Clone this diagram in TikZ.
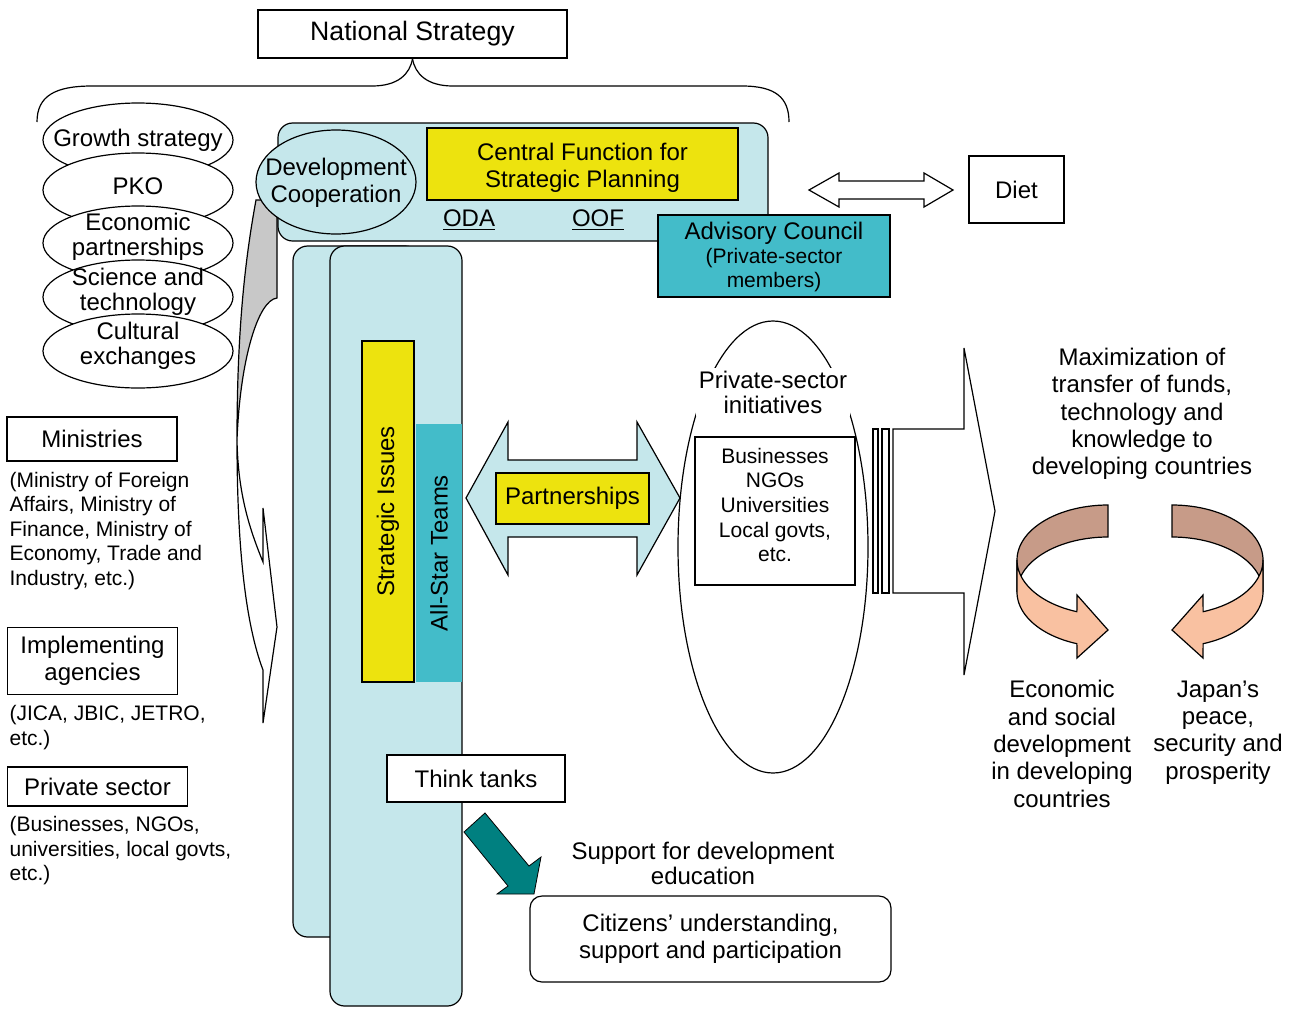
\documentclass[tikz,border=0pt]{standalone}
\usepackage{fontspec}
\setmainfont{Liberation Sans}
\usepackage{tikz}
\usetikzlibrary{shapes,positioning}
\definecolor{paleblue}{RGB}{197,231,235}
\definecolor{boxyellow}{RGB}{237,227,14}
\definecolor{councilteal}{RGB}{67,188,201}
\definecolor{arrowteal}{RGB}{0,128,128}
\definecolor{ringback}{RGB}{199,155,136}
\definecolor{ringfront}{RGB}{249,193,161}
\definecolor{shadegray}{RGB}{200,200,200}
\newcommand{\bigtxt}{\fontsize{18pt}{20.5pt}\selectfont}
\newcommand{\smalltxt}{\fontsize{15.75pt}{18.4pt}\selectfont}
\newcommand{\tighttxt}{\fontsize{18pt}{18.75pt}\selectfont}

\begin{document}
\begin{tikzpicture}[x=0.75pt, y=-0.75pt, line width=0.9pt,
        every node/.style={font=\bigtxt, align=center},
        plainbox/.style={draw, fill=white, rectangle, inner sep=0pt},
        topic/.style={draw, fill=white, ellipse, minimum width=142.5pt, minimum height=55.5pt, inner sep=0pt},
        listtext/.style={font=\smalltxt, align=left, anchor=west, inner sep=0pt}]
        \useasboundingbox (0,0) rectangle (1296,1008);

        % National strategy and its brace
        \node[plainbox, minimum width=231.75pt, minimum height=36pt, font=\fontsize{20pt}{24pt}\selectfont] (natbox) at (412.5,34) {National Strategy};
        \draw (37,122) .. controls (37,96) and (55,86) .. (92,86) -- (372,86) .. controls (398,86) and (410,74) .. (natbox.south);
        \draw (natbox.south) .. controls (415,74) and (427,86) .. (453,86) -- (742,86) .. controls (776,86) and (789,98) .. (789,122);

        % Policy fields
        \node[topic] (growth) at (138,140) {};
        \node[topic] (pko) at (138,190) {};
        \node[topic] (econ) at (138,243) {};
        \node[topic] (science) at (138,297) {};
        \node[topic] (culture) at (138,351) {};
        \node[font=\tighttxt] (growthtxt) at (138,140) {Growth strategy};
        \node[font=\tighttxt] (pkotxt) at (138,186) {PKO};
        \node[font=\tighttxt] (econtxt) at (138,237) {Economic\\partnerships};
        \node[font=\tighttxt] (sciencetxt) at (138,292) {Science and\\technology};
        \node[font=\tighttxt] (culturetxt) at (138,346) {Cultural\\exchanges};

        % Curved arrow down the left side
        \draw[fill=white] (237,440) .. controls (237,550) and (246,625) .. (263,670) -- (263,723) -- (277,627) -- (263,508) -- (263,562) .. controls (250,530) and (238,495) .. (237,440) -- cycle;
        \draw[fill=shadegray] (256,200) .. controls (245,260) and (237,330) .. (237,440) .. controls (240,360) and (258,300) .. (277,298) -- (277,200) -- cycle;

        % Development cooperation panel
        \node[draw, fill=paleblue, rounded corners=11pt, minimum width=367.5pt, minimum height=88.5pt, inner sep=0pt] (devpanel) at (523,182) {};
        \node[draw, fill=paleblue, ellipse, minimum width=120pt, minimum height=78pt, inner sep=0pt] (devcoop) at (336,182) {};
        \node (devcooptxt) at (336,182.5) {Development\\Cooperation};
        \node[draw, fill=boxyellow, minimum width=233.25pt, minimum height=54pt, inner sep=0pt] (central) at (582.5,164) {};
        \node (centraltxt) at (582.5,167.5) {Central Function for\\Strategic Planning};
        \node (oda) at (469,220) {\underline{ODA}};
        \node (oof) at (598,220) {\underline{OOF}};
        \node[draw, fill=councilteal, minimum width=174pt, minimum height=61.5pt, inner sep=0pt] (advisory) at (774,256) {};
        \node (advtitle) at (774,233) {Advisory Council};
        \node[font=\smalltxt] (advmembers) at (774,270) {(Private-sector\\members)};

        % Diet
        \draw[fill=white] (809,190) -- (839,173) -- (839,181) -- (924,181) -- (924,173) -- (953,190) -- (924,207) -- (924,199) -- (839,199) -- (839,207) -- cycle;
        \node[plainbox, minimum width=71.25pt, minimum height=50.25pt] (diet) at (1016.5,189.5) {Diet};

        % Columns
        \node[draw, fill=paleblue, rounded corners=11pt, minimum width=95.25pt, minimum height=518.25pt, inner sep=0pt] (backcol) at (356.5,591.5) {};
        \node[draw, fill=paleblue, rounded corners=11pt, minimum width=99pt, minimum height=570pt, inner sep=0pt] (frontcol) at (396,626) {};
        \node[draw, fill=boxyellow, rotate=90, minimum width=255.75pt, minimum height=39pt, inner sep=0pt] (issues) at (388,511.5) {Strategic Issues};
        \node[fill=councilteal, rotate=90, minimum width=193.5pt, minimum height=34.5pt, inner sep=0pt] (allstar) at (439,553) {All-Star Teams};

        % Partnerships
        \draw[fill=paleblue] (466,498) -- (508,422) -- (508,460) -- (637,460) -- (637,422) -- (680,498) -- (637,575) -- (637,537) -- (508,537) -- (508,575) -- cycle;
        \node[draw, fill=boxyellow, minimum width=114.75pt, minimum height=38.25pt, inner sep=0pt] (partner) at (572.5,498.5) {Partnerships};

        % Private-sector initiatives
        \node[draw, ellipse, minimum width=142.5pt, minimum height=339pt, inner sep=0pt] (initiatives) at (773,547) {};
        \node[font=\tighttxt, fill=white, inner sep=2pt] (initxt) at (773,392) {Private-sector\\initiatives};
        \node[plainbox, minimum width=120pt, minimum height=111pt] (actors) at (775,511) {};
        \node[font=\smalltxt] (actorstxt) at (775,505) {Businesses\\NGOs\\Universities\\Local govts,\\etc.};

        % Striped arrow
        \draw[fill=white] (873,429) rectangle (878,593);
        \draw[fill=white] (882,429) rectangle (889,593);
        \draw[fill=white] (893,429) -- (964,429) -- (964,348) -- (995,511) -- (964,675) -- (964,593) -- (893,593) -- cycle;

        % Outcomes
        \node (transfer) at (1142,414) {Maximization of\\transfer of funds,\\technology and\\knowledge to\\developing countries};
        \draw[fill=ringback] plot[domain=270:180, samples=30] ({1108+91*cos(\x)},{560+55*sin(\x)}) -- plot[domain=180:270, samples=30] ({1108+91*cos(\x)},{592+55*sin(\x)}) -- cycle;
        \draw[fill=ringfront] plot[domain=180:110, samples=30] ({1108+91*cos(\x)},{560+55*sin(\x)}) -- (1077,595) -- (1108,630) -- (1077,658) -- plot[domain=110:180, samples=30] ({1108+91*cos(\x)},{592+55*sin(\x)}) -- cycle;
        \draw[fill=ringback] plot[domain=270:360, samples=30] ({1172+91*cos(\x)},{560+55*sin(\x)}) -- plot[domain=360:270, samples=30] ({1172+91*cos(\x)},{592+55*sin(\x)}) -- cycle;
        \draw[fill=ringfront] plot[domain=0:70, samples=30] ({1172+91*cos(\x)},{560+55*sin(\x)}) -- (1203,595) -- (1172,630) -- (1203,658) -- plot[domain=70:0, samples=30] ({1172+91*cos(\x)},{592+55*sin(\x)}) -- cycle;
        \node (devgoal) at (1062,744) {Economic\\and social\\development\\in developing\\countries};
        \node (japangoal) at (1218,732.5) {Japan’s\\peace,\\security and\\prosperity};

        % Think tanks and citizens
        \node[plainbox, minimum width=133.5pt, minimum height=35.25pt] (think) at (476,778.5) {Think tanks};
        \draw[fill=arrowteal, line width=0.6pt] (464,832) -- (485,813) -- (529,866) -- (541,857) -- (534,894) -- (497,894) -- (508,886) -- cycle;
        \node[font=\tighttxt] (support) at (703,863) {Support for development\\education};
        \node[plainbox, rounded corners=9pt, minimum width=270.75pt, minimum height=64.5pt] (citizens) at (710.5,939) {Citizens’ understanding,\\support and participation};

        % Actors on the left
        \node[plainbox, minimum width=127.5pt, minimum height=33pt] (ministries) at (92,439) {Ministries};
        \node[listtext] (ministrylist) at (9,531) {(Ministry of Foreign\\Affairs, Ministry of\\Finance, Ministry of\\Economy, Trade and\\Industry, etc.)};
        \node[plainbox, minimum width=127.5pt, minimum height=50.25pt] (agencies) at (92.5,661) {Implementing\\agencies};
        \node[listtext] (agencylist) at (9,727.5) {(JICA, JBIC, JETRO,\\etc.)};
        \node[plainbox, minimum width=135pt, minimum height=29.25pt] (private) at (97.5,786.5) {Private sector};
        \node[listtext] (privatelist) at (9,851) {(Businesses, NGOs,\\universities, local govts,\\etc.)};
\end{tikzpicture}
\end{document}
